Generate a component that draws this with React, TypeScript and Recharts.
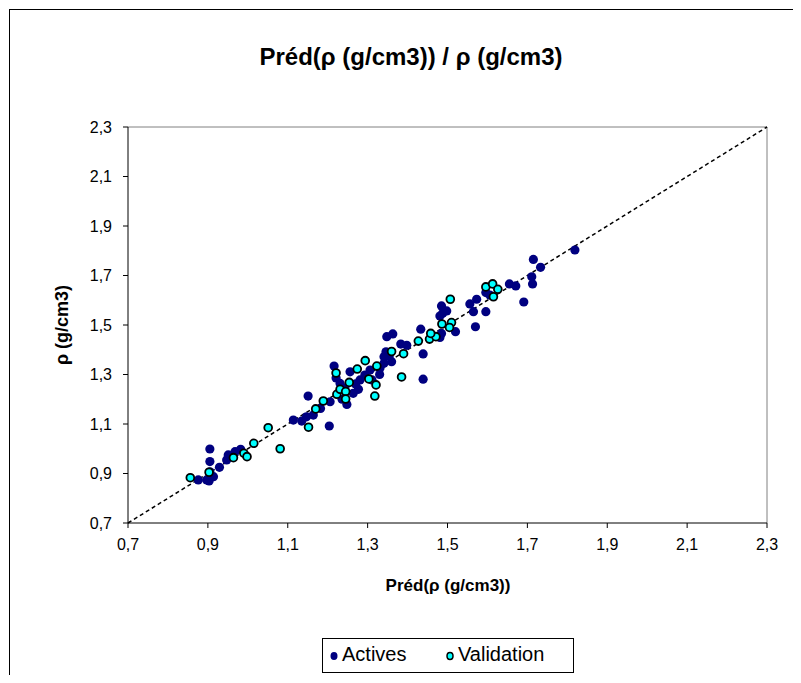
import React from 'react';
import { ScatterChart, Scatter, XAxis, YAxis, ReferenceLine } from 'recharts';

const axisTicks = [0.7, 0.9, 1.1, 1.3, 1.5, 1.7, 1.9, 2.1, 2.3];

const activesX = [
  0.876, 0.897, 0.903, 0.905, 0.914, 0.929, 0.905, 0.905, 0.947, 0.951, 0.968, 0.982,
  1.114, 1.135, 1.147, 1.164, 1.151, 1.204, 1.182, 1.206, 1.248, 1.216, 1.231, 1.256,
  1.277, 1.264, 1.281, 1.306, 1.331, 1.341, 1.354, 1.360, 1.348, 1.363, 1.383, 1.341,
  1.346, 1.439, 1.439, 1.433, 1.481, 1.485, 1.498, 1.488, 1.520, 1.485, 1.481, 1.556,
  1.573, 1.565, 1.596, 1.570, 1.596, 1.606, 1.655, 1.671, 1.691, 1.711, 1.713, 1.715,
  1.733, 1.819, 1.243, 1.221, 1.293, 1.311, 1.236, 1.270, 1.330, 1.398,
];
const activesY = [
  0.874, 0.874, 0.870, 0.907, 0.887, 0.925, 0.948, 0.999, 0.955, 0.975, 0.988, 0.998,
  1.116, 1.112, 1.129, 1.136, 1.213, 1.092, 1.163, 1.190, 1.179, 1.334, 1.264, 1.311,
  1.240, 1.224, 1.278, 1.318, 1.326, 1.345, 1.375, 1.352, 1.453, 1.464, 1.423, 1.372,
  1.392, 1.383, 1.281, 1.483, 1.536, 1.577, 1.557, 1.547, 1.473, 1.466, 1.450, 1.585,
  1.604, 1.554, 1.554, 1.493, 1.631, 1.621, 1.666, 1.658, 1.593, 1.695, 1.666, 1.765,
  1.733, 1.803, 1.245, 1.286, 1.298, 1.278, 1.200, 1.262, 1.300, 1.418,
];

const validationX = [
  0.856, 0.903, 0.964, 0.990, 0.998, 1.015, 1.051, 1.081, 1.152, 1.170, 1.189, 1.223,
  1.231, 1.245, 1.245, 1.221, 1.254, 1.274, 1.294, 1.323, 1.303, 1.321, 1.318, 1.360,
  1.390, 1.385, 1.427, 1.455, 1.471, 1.458, 1.486, 1.510, 1.505, 1.507, 1.596, 1.613,
  1.626, 1.615,
];
const validationY = [
  0.883, 0.905, 0.964, 0.982, 0.968, 1.022, 1.085, 1.000, 1.087, 1.161, 1.193, 1.220,
  1.240, 1.231, 1.201, 1.306, 1.268, 1.322, 1.356, 1.334, 1.282, 1.258, 1.213, 1.393,
  1.384, 1.290, 1.435, 1.443, 1.453, 1.466, 1.504, 1.510, 1.490, 1.604, 1.654, 1.666,
  1.644, 1.614,
];

const actives = activesX.map((x, i) => ({ x, y: activesY[i] }));
const validation = validationX.map((x, i) => ({ x, y: validationY[i] }));

const fmt = (v: number) => v.toFixed(1).replace('.', ',');
const FONT = '"Liberation Sans", Arial, sans-serif';

const ActiveDot = (p: any) => <circle cx={p.cx} cy={p.cy} r={4.6} fill="#000080" />;
const ValDot = (p: any) => (
  <circle cx={p.cx} cy={p.cy} r={3.9} fill="#00FFFF" stroke="#000000" strokeWidth={1.8} />
);

export default function App() {
  return (
    <div style={{ position: 'relative', width: 789, height: 667, overflow: 'hidden', fontFamily: FONT }}>
      <div
        style={{
          position: 'absolute', left: 1, top: 1, width: 787, height: 720,
          border: '1px solid #000', boxSizing: 'border-box',
        }}
      />
      <div
        style={{
          position: 'absolute', left: 403, top: 49, transform: 'translate(-50%, -50%)',
          whiteSpace: 'nowrap', fontWeight: 'bold', fontSize: 24, color: '#000',
        }}
      >
        Préd(ρ (g/cm3)) / ρ (g/cm3)
      </div>
      <div style={{ position: 'absolute', left: 0, top: 0 }}>
        <ScatterChart width={789} height={667} margin={{ top: 119, right: 30, left: 0, bottom: 112 }}>
          <XAxis
            type="number" dataKey="x" domain={[0.7, 2.3]} ticks={axisTicks} tickFormatter={fmt}
            allowDataOverflow height={40} stroke="#000" tickSize={5} tickMargin={11}
            tick={{ fill: '#000', fontSize: 16, fontFamily: FONT }}
          />
          <YAxis
            type="number" dataKey="y" domain={[0.7, 2.3]} ticks={axisTicks} tickFormatter={fmt}
            allowDataOverflow width={120} stroke="#000" tickSize={5} tickMargin={11}
            tick={{ fill: '#000', fontSize: 16, fontFamily: FONT }}
          />
          <ReferenceLine y={2.3} stroke="#808080" strokeWidth={1} />
          <ReferenceLine x={2.3} stroke="#808080" strokeWidth={1} />
          <ReferenceLine
            segment={[{ x: 0.7, y: 0.7 }, { x: 2.3, y: 2.3 }]}
            stroke="#000" strokeWidth={1.5} strokeDasharray="4 3"
          />
          <Scatter name="Actives" data={actives} shape={ActiveDot} isAnimationActive={false} />
          <Scatter name="Validation" data={validation} shape={ValDot} isAnimationActive={false} />
        </ScatterChart>
      </div>
      <div
        style={{
          position: 'absolute', left: 440, top: 578, transform: 'translate(-50%, -50%)',
          whiteSpace: 'nowrap', fontWeight: 'bold', fontSize: 17, color: '#000',
        }}
      >
        Préd(ρ (g/cm3))
      </div>
      <div
        style={{
          position: 'absolute', left: 54, top: 317, transform: 'translate(-50%, -50%) rotate(-90deg)',
          whiteSpace: 'nowrap', fontWeight: 'bold', fontSize: 18, color: '#000',
        }}
      >
        ρ (g/cm3)
      </div>
      <div
        style={{
          position: 'absolute', left: 314, top: 630, width: 252, height: 35,
          border: '1px solid #000', boxSizing: 'border-box',
          fontSize: 20, color: '#000',
        }}
      >
        <svg width={10} height={10} style={{ position: 'absolute', left: 6, top: 12 }}>
          <ellipse cx={5} cy={5} rx={3.5} ry={4} fill="#000080" />
        </svg>
        <span style={{ position: 'absolute', left: 19, top: 4, whiteSpace: 'nowrap' }}>Actives</span>
        <svg width={10} height={10} style={{ position: 'absolute', left: 122, top: 12 }}>
          <ellipse cx={5} cy={5} rx={3} ry={3.5} fill="#00FFFF" stroke="#000" strokeWidth={1.5} />
        </svg>
        <span style={{ position: 'absolute', left: 135, top: 4, whiteSpace: 'nowrap' }}>Validation</span>
      </div>
    </div>
  );
}
